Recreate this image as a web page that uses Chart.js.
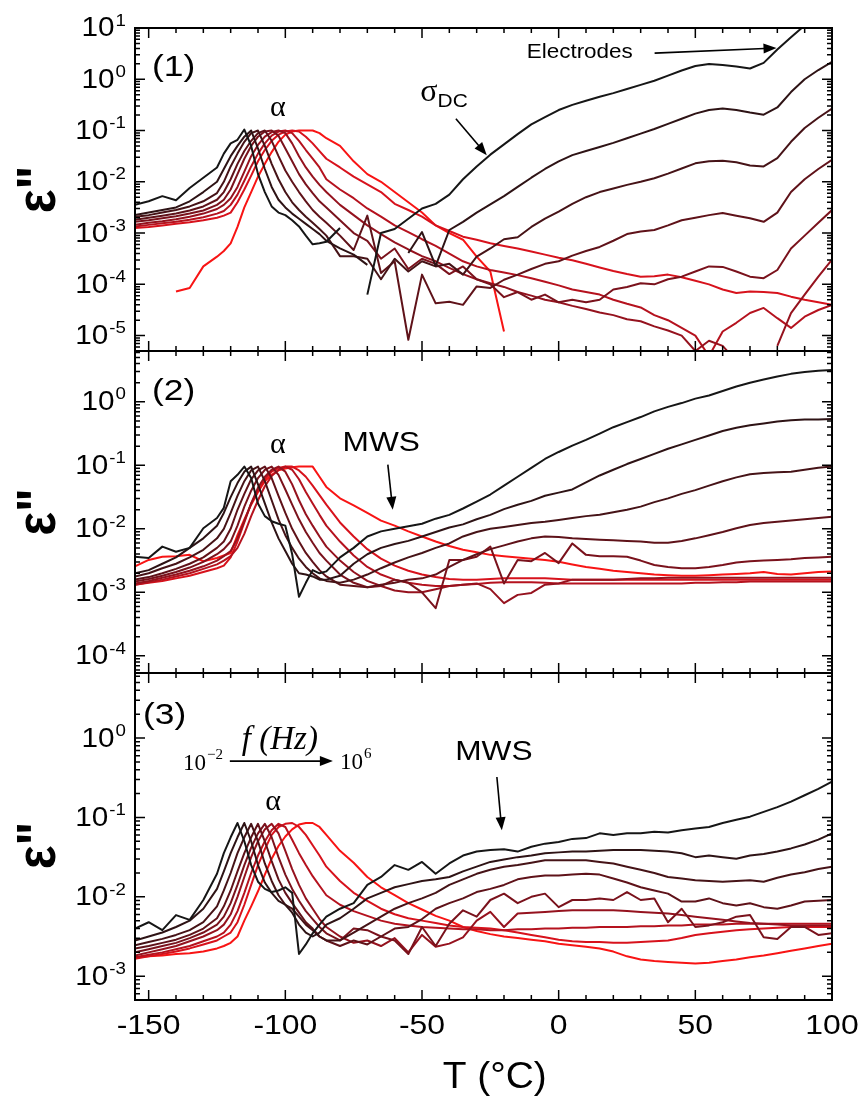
<!DOCTYPE html>
<html>
<head>
<meta charset="utf-8">
<script src="https://cdn.jsdelivr.net/npm/chart.js@4.4.1/dist/chart.umd.min.js"></script>
<style>
  body { margin: 0; background: #fff; }
  #wrap { position: relative; width: 860px; height: 1102px; }
  #wrap canvas { position: absolute; left: 0; top: 0; }
</style>
</head>
<body>
<div id="wrap">
  <canvas id="p1" width="860" height="1102"></canvas>
  <canvas id="p2" width="860" height="1102"></canvas>
  <canvas id="p3" width="860" height="1102"></canvas>
</div>
<script>
// temperature grid (°C), shared by every curve
const temps = [-155,-150,-145,-140,-135,-130,-125,
  -122.5,-120,-117.5,-115,-112.5,-110,-107.5,-105,-102.5,-100,-97.5,-95,-92.5,-90,-87.5,-85,
  -80,-75,-70,-65,-60,-55,-50,-45,-40,-35,-30,-25,-20,-15,-10,-5,0,5,10,15,20,25,30,35,40,45,50,55,60,65,70,75,80,85,90,95,100];

// one curve per frequency, 10^-2 Hz (black) .. 10^6 Hz (red)
const freqLabels = ['1e-2 Hz','1e-1 Hz','1e0 Hz','1e1 Hz','1e2 Hz','1e3 Hz','1e4 Hz','1e5 Hz','1e6 Hz'];
const colors = ['#161616','#2e1315','#461317','#5f1219','#7a121c','#95121e','#b5121e','#d7121c','#f81414'];

// values are log10(eps''), null = not plotted
// panel (1)
const p1_0 = [-2.45,-2.38,-2.28,-2.36,-2.12,-1.92,-1.72,
  -1.45,-1.25,-1.18,-0.98,-1.3,-1.85,-2.2,-2.48,-2.6,-2.65,-2.75,-2.87,-3.05,-3.22,-3.2,-3.17,
  -2.9,null,-4.2,-3.0,-2.92,-2.72,-2.52,-2.43,-2.25,-1.95,-1.7,-1.47,-1.27,-1.07,-0.88,-0.74,-0.6,-0.5,-0.42,-0.34,
  -0.27,-0.19,-0.11,-0.03,0.07,0.17,0.26,0.3,0.28,0.25,0.21,0.32,0.58,0.82,1.05,1.3,1.55];
const p1_1 = [-2.65,-2.6,-2.55,-2.5,-2.38,-2.2,-2.0,
  -1.75,-1.5,-1.3,-1.12,-1.0,-1.35,-1.75,-2.1,-2.35,-2.5,-2.62,-2.72,-2.82,-2.92,-3.02,-3.15,
  -3.3,-3.42,-3.62,null,null,-3.39,-2.98,-3.64,-2.94,-2.78,-2.6,-2.44,-2.28,-2.1,-1.92,-1.75,-1.6,-1.48,-1.4,-1.32,
  -1.24,-1.15,-1.06,-0.97,-0.87,-0.77,-0.67,-0.6,-0.57,-0.6,-0.65,-0.69,-0.55,-0.25,0.0,0.18,0.34];
const p1_2 = [-2.68,-2.65,-2.6,-2.55,-2.48,-2.38,-2.22,
  -2.0,-1.7,-1.45,-1.22,-1.05,-1.0,-1.3,-1.65,-1.95,-2.2,-2.4,-2.55,-2.68,-2.8,-2.92,-3.05,
  -3.45,-3.45,-3.5,-3.9,-3.5,-3.75,-3.55,-3.65,-3.6,-3.81,-3.46,-3.3,-3.12,-3.08,-2.88,-2.72,-2.58,-2.43,-2.3,-2.2,
  -2.13,-2.06,-2.0,-1.93,-1.84,-1.74,-1.64,-1.6,-1.59,-1.62,-1.68,-1.7,-1.54,-1.22,-0.95,-0.75,-0.57];
const p1_3 = [-2.74,-2.7,-2.66,-2.62,-2.56,-2.48,-2.35,
  -2.2,-1.95,-1.65,-1.4,-1.2,-1.05,-1.0,-1.2,-1.5,-1.78,-2.0,-2.2,-2.38,-2.55,-2.68,-2.8,
  -3.05,-3.33,-2.66,-3.78,-3.55,-5.08,-3.81,-4.37,-4.34,-4.4,-4.04,-4.07,-3.91,-3.81,-3.7,-3.6,-3.55,-3.44,-3.35,-3.27,
  -3.15,-3.02,-2.97,-2.94,-2.85,-2.75,-2.7,-2.65,-2.61,-2.66,-2.71,-2.78,-2.6,-2.2,-1.95,-1.75,-1.57];
const p1_4 = [-2.78,-2.75,-2.71,-2.67,-2.62,-2.56,-2.45,
  -2.35,-2.15,-1.85,-1.55,-1.3,-1.12,-1.02,-1.0,-1.1,-1.35,-1.6,-1.85,-2.05,-2.22,-2.38,-2.5,
  -2.75,-3.0,-3.15,-3.5,-3.3,-3.7,-3.5,-3.6,-3.8,-3.65,-3.9,-4.0,-4.25,-4.15,-4.3,-4.2,-4.35,-4.3,-4.35,-4.3,
  -4.1,-4.05,-3.98,-4.0,-3.9,-3.85,-3.75,-3.65,-3.66,-3.75,-3.85,-3.88,-3.72,-3.3,-3.05,-2.8,-2.55];
const p1_5 = [-2.84,-2.8,-2.77,-2.73,-2.68,-2.62,-2.53,
  -2.45,-2.32,-2.1,-1.8,-1.5,-1.28,-1.12,-1.03,-1.0,-1.05,-1.25,-1.5,-1.72,-1.9,-2.06,-2.2,
  -2.45,-2.65,-2.85,-3.02,-3.18,-3.32,-3.45,-3.55,-3.68,-3.8,-3.9,-3.98,-4.05,-4.15,-4.22,-4.3,-4.35,-4.42,-4.48,-4.55,
  -4.6,-4.68,-4.72,-4.82,-4.9,-5.0,-5.3,-5.1,-5.2,-5.5,null,null,-5.2,-4.56,-4.2,-3.85,-3.52];
const p1_6 = [-2.87,-2.84,-2.81,-2.78,-2.74,-2.69,-2.62,
  -2.57,-2.45,-2.25,-1.98,-1.7,-1.45,-1.25,-1.1,-1.02,-1.0,-1.05,-1.2,-1.38,-1.55,-1.72,-1.95,
  -2.15,-2.32,-2.52,-2.68,-2.85,-2.98,-3.12,-3.25,-3.4,-3.55,-3.65,-3.72,-3.77,-3.82,-3.88,-3.95,-4.02,-4.1,-4.15,-4.2,
  -4.3,-4.38,-4.45,-4.6,-4.7,-4.85,-5.0,-5.4,-4.92,-4.75,-4.56,-4.46,-4.66,-4.85,-4.63,-4.5,-4.4];
const p1_7 = [-2.9,-2.88,-2.85,-2.82,-2.79,-2.75,-2.7,
  -2.66,-2.6,-2.4,-2.15,-1.88,-1.6,-1.38,-1.2,-1.08,-1.02,-1.0,-1.02,-1.12,-1.25,-1.4,-1.55,
  -1.72,-1.9,-2.05,-2.2,-2.43,-2.55,-2.68,-2.85,-2.96,-3.07,-3.13,-3.2,-3.25,-3.3,-3.36,-3.42,-3.48,-3.53,-3.6,-3.67,
  -3.74,-3.8,-3.85,-3.84,-3.81,-3.86,-3.93,-4.0,-4.1,-4.17,-4.14,-4.15,-4.17,-4.24,-4.3,-4.35,-4.4];
const p1_8 = [null,null,null,-4.14,-4.07,-3.65,-3.46,
  -3.35,-3.2,-2.88,-2.5,-2.2,-1.9,-1.65,-1.42,-1.22,-1.08,-1.02,-1.0,-1.0,-1.0,-1.05,-1.15,
  -1.3,-1.6,-1.85,-2.0,-2.2,-2.4,-2.6,-2.85,-3.0,-3.13,-3.46,-3.75,-4.92,null,null,null,null,null,null,null,
  null,null,null,null,null,null,null,null,null,null,null,null,null,null,null,null,null];

// panel (2)
const p2_0 = [-2.44,-2.46,-2.28,-2.36,-2.3,-1.99,-1.83,
  -1.67,-1.25,-1.15,-1.02,-1.2,-1.6,-1.8,-1.88,-1.92,-1.95,-2.4,-3.07,-2.85,-2.65,-2.7,-2.67,
  -2.45,-2.3,-2.12,-2.04,-2.0,-1.96,-1.92,-1.84,-1.78,-1.68,-1.57,-1.46,-1.32,-1.18,-1.04,-0.9,-0.79,-0.69,-0.6,-0.5,
  -0.4,-0.32,-0.24,-0.15,-0.08,-0.02,0.05,0.1,0.17,0.24,0.3,0.35,0.4,0.44,0.47,0.49,0.5];
const p2_1 = [-2.7,-2.65,-2.55,-2.45,-2.3,-2.15,-1.95,
  -1.75,-1.5,-1.28,-1.1,-1.02,-1.3,-1.6,-1.9,-2.15,-2.35,-2.55,-2.7,-2.72,-2.75,-2.8,-2.8,
  -2.74,-2.55,-2.4,-2.3,-2.24,-2.19,-2.12,-2.05,-1.98,-1.93,-1.85,-1.78,-1.69,-1.62,-1.56,-1.48,-1.43,-1.38,-1.27,-1.16,
  -1.07,-0.98,-0.9,-0.82,-0.74,-0.67,-0.6,-0.53,-0.46,-0.41,-0.37,-0.34,-0.31,-0.29,-0.28,-0.28,-0.27];
const p2_2 = [-2.75,-2.7,-2.62,-2.55,-2.45,-2.33,-2.15,
  -2.0,-1.75,-1.48,-1.25,-1.08,-1.02,-1.25,-1.55,-1.85,-2.1,-2.3,-2.47,-2.6,-2.7,-2.78,-2.82,
  -2.85,-2.8,-2.72,-2.62,-2.53,-2.45,-2.38,-2.3,-2.23,-2.12,-2.05,-2.0,-1.97,-1.94,-1.91,-1.89,-1.86,-1.83,-1.8,-1.78,
  -1.74,-1.7,-1.65,-1.58,-1.52,-1.45,-1.39,-1.32,-1.25,-1.19,-1.14,-1.12,-1.11,-1.1,-1.07,-1.04,-1.02];
const p2_3 = [-2.8,-2.76,-2.7,-2.63,-2.55,-2.45,-2.3,
  -2.2,-2.0,-1.7,-1.45,-1.22,-1.08,-1.02,-1.2,-1.48,-1.75,-2.0,-2.2,-2.38,-2.52,-2.65,-2.75,
  -2.88,-2.9,-2.92,-2.88,-2.85,-2.8,-2.78,-2.72,-2.6,-2.49,-2.4,-2.32,-2.26,-2.2,-2.15,-2.12,-2.13,-2.15,-2.16,-2.17,
  -2.18,-2.19,-2.2,-2.22,-2.22,-2.19,-2.15,-2.1,-2.05,-1.99,-1.94,-1.91,-1.89,-1.87,-1.85,-1.83,-1.81];
const p2_4 = [-2.83,-2.79,-2.74,-2.68,-2.61,-2.52,-2.4,
  -2.32,-2.2,-1.95,-1.65,-1.4,-1.2,-1.07,-1.02,-1.15,-1.38,-1.62,-1.85,-2.05,-2.22,-2.38,-2.5,
  -2.72,-2.85,-2.92,-2.9,-2.8,-2.85,-3.0,-3.25,-2.49,-2.49,-2.44,-2.28,-2.86,-2.49,-2.51,-2.38,-2.54,-2.23,-2.41,-2.43,
  -2.43,-2.44,-2.5,-2.57,-2.6,-2.62,-2.62,-2.6,-2.57,-2.53,-2.51,-2.5,-2.49,-2.48,-2.46,-2.45,-2.44];
const p2_5 = [-2.86,-2.82,-2.77,-2.72,-2.66,-2.59,-2.5,
  -2.43,-2.35,-2.15,-1.88,-1.6,-1.35,-1.18,-1.07,-1.02,-1.1,-1.3,-1.55,-1.77,-1.95,-2.12,-2.28,
  -2.5,-2.68,-2.82,-2.9,-2.97,-3.0,-3.0,-2.95,-2.9,-2.88,-2.86,-2.95,-3.17,-3.04,-3.01,-2.88,-2.86,-2.8,-2.8,-2.8,
  -2.8,-2.79,-2.78,-2.78,-2.77,-2.77,-2.77,-2.77,-2.77,-2.77,-2.77,-2.77,-2.77,-2.77,-2.77,-2.77,-2.77];
const p2_6 = [-2.88,-2.84,-2.8,-2.75,-2.7,-2.63,-2.56,
  -2.5,-2.43,-2.3,-2.08,-1.8,-1.55,-1.33,-1.17,-1.07,-1.02,-1.07,-1.22,-1.42,-1.6,-1.78,-1.95,
  -2.2,-2.42,-2.6,-2.72,-2.8,-2.85,-2.88,-2.9,-2.9,-2.88,-2.87,-2.85,-2.84,-2.84,-2.84,-2.85,-2.86,-2.86,-2.86,-2.86,
  -2.86,-2.86,-2.86,-2.86,-2.86,-2.86,-2.85,-2.85,-2.84,-2.84,-2.83,-2.83,-2.83,-2.83,-2.83,-2.83,-2.83];
const p2_7 = [-2.88,-2.85,-2.82,-2.78,-2.74,-2.68,-2.62,
  -2.58,-2.45,-2.2,-1.9,-1.6,-1.4,-1.22,-1.1,-1.04,-1.02,-1.02,-1.08,-1.18,-1.32,-1.47,-1.62,
  -1.9,-2.12,-2.32,-2.47,-2.58,-2.66,-2.72,-2.76,-2.79,-2.8,-2.8,-2.79,-2.78,-2.78,-2.78,-2.78,-2.79,-2.8,-2.8,-2.8,
  -2.8,-2.8,-2.8,-2.8,-2.8,-2.8,-2.8,-2.8,-2.8,-2.8,-2.8,-2.8,-2.8,-2.8,-2.8,-2.8,-2.8];
const p2_8 = [-2.59,-2.49,-2.44,-2.43,-2.41,-2.51,-2.46,
  -2.42,-2.38,-2.1,-1.85,-1.62,-1.42,-1.25,-1.15,-1.08,-1.05,-1.03,-1.02,-1.02,-1.02,-1.18,-1.34,
  -1.52,-1.63,-1.75,-1.87,-1.95,-2.04,-2.12,-2.2,-2.27,-2.33,-2.37,-2.41,-2.43,-2.45,-2.47,-2.49,-2.52,-2.56,-2.6,-2.63,
  -2.66,-2.68,-2.7,-2.72,-2.73,-2.74,-2.74,-2.73,-2.72,-2.71,-2.7,-2.68,-2.71,-2.72,-2.7,-2.68,-2.67];

// panel (3)
const p3_0 = [-2.4,-2.32,-2.42,-2.23,-2.29,-2.04,-1.71,
  -1.45,-1.25,-1.07,-1.3,-1.6,-1.81,-1.9,-1.94,-1.92,-1.88,-1.95,-2.72,-2.6,-2.46,-2.35,-2.25,
  -2.15,-2.08,-1.85,-1.75,-1.6,-1.66,-1.56,-1.71,-1.58,-1.48,-1.43,-1.41,-1.4,-1.43,-1.37,-1.33,-1.31,-1.27,-1.26,-1.2,
  -1.22,-1.2,-1.2,-1.18,-1.19,-1.16,-1.14,-1.12,-1.07,-1.03,-0.99,-0.93,-0.87,-0.8,-0.72,-0.64,-0.55];
const p3_1 = [-2.55,-2.5,-2.45,-2.38,-2.3,-2.15,-1.9,
  -1.68,-1.45,-1.25,-1.07,-1.3,-1.6,-1.82,-1.95,-2.05,-2.1,-2.2,-2.35,-2.45,-2.5,-2.45,-2.35,
  -2.27,-2.15,-2.02,-1.95,-1.88,-1.84,-1.8,-1.78,-1.75,-1.68,-1.62,-1.56,-1.53,-1.5,-1.48,-1.45,-1.44,-1.43,-1.43,-1.42,
  -1.41,-1.41,-1.41,-1.42,-1.43,-1.45,-1.5,-1.48,-1.5,-1.52,-1.48,-1.46,-1.43,-1.39,-1.34,-1.28,-1.2];
const p3_2 = [-2.61,-2.57,-2.53,-2.48,-2.42,-2.32,-2.12,
  -1.92,-1.7,-1.45,-1.25,-1.08,-1.3,-1.58,-1.8,-1.98,-2.1,-2.15,-2.25,-2.35,-2.42,-2.5,-2.55,
  -2.55,-2.45,-2.35,-2.25,-2.15,-2.08,-2.02,-1.95,-1.85,-1.78,-1.71,-1.66,-1.62,-1.6,-1.57,-1.54,-1.54,-1.54,-1.54,-1.56,
  -1.58,-1.62,-1.66,-1.7,-1.75,-1.77,-1.79,-1.8,-1.81,-1.8,-1.79,-1.81,-1.76,-1.72,-1.69,-1.65,-1.62];
const p3_3 = [-2.65,-2.62,-2.58,-2.54,-2.48,-2.4,-2.27,
  -2.12,-1.92,-1.68,-1.45,-1.25,-1.08,-1.3,-1.55,-1.78,-1.95,-2.08,-2.2,-2.32,-2.4,-2.5,-2.55,
  -2.62,-2.55,-2.6,-2.5,-2.4,-2.38,-2.28,-2.15,-2.08,-2.02,-1.94,-1.9,-1.85,-1.78,-1.75,-1.73,-1.73,-1.72,-1.71,-1.72,
  -1.77,-1.82,-1.88,-1.92,-1.96,-2.06,-2.06,-2.02,-2.08,-2.11,-2.08,-2.13,-2.15,-2.11,-2.06,-2.05,-2.04];
const p3_4 = [-2.7,-2.66,-2.62,-2.58,-2.52,-2.45,-2.35,
  -2.25,-2.08,-1.85,-1.6,-1.38,-1.2,-1.08,-1.25,-1.5,-1.72,-1.9,-2.05,-2.18,-2.28,-2.38,-2.46,
  -2.55,-2.4,-2.42,-2.5,-2.55,-2.72,-2.38,-2.62,-2.34,-2.17,-2.25,-2.04,-1.96,-2.08,-2.0,-1.96,-2.13,-2.04,-2.04,-2.02,
  -2.04,-1.94,-2.04,-2.02,-2.32,-2.15,-2.38,-2.36,-2.32,-2.25,-2.23,-2.51,-2.53,-2.38,-2.38,-2.48,-2.46];
const p3_5 = [-2.74,-2.7,-2.66,-2.62,-2.56,-2.5,-2.42,
  -2.35,-2.22,-2.0,-1.75,-1.5,-1.3,-1.15,-1.08,-1.2,-1.42,-1.65,-1.85,-2.02,-2.15,-2.28,-2.38,
  -2.5,-2.58,-2.55,-2.62,-2.52,-2.7,-2.48,-2.63,-2.59,-2.51,-2.3,-2.19,-2.38,-2.21,-2.2,-2.19,-2.18,-2.17,-2.17,-2.17,
  -2.17,-2.18,-2.19,-2.2,-2.21,-2.23,-2.25,-2.27,-2.29,-2.31,-2.33,-2.34,-2.35,-2.36,-2.36,-2.36,-2.36];
const p3_6 = [-2.76,-2.73,-2.7,-2.66,-2.62,-2.56,-2.5,
  -2.45,-2.35,-2.18,-1.95,-1.7,-1.48,-1.3,-1.16,-1.08,-1.12,-1.28,-1.45,-1.6,-1.74,-1.86,-1.98,
  -2.1,-2.18,-2.24,-2.3,-2.34,-2.36,-2.38,-2.39,-2.4,-2.41,-2.41,-2.42,-2.42,-2.41,-2.41,-2.4,-2.4,-2.39,-2.39,-2.38,
  -2.38,-2.38,-2.37,-2.37,-2.36,-2.36,-2.35,-2.35,-2.35,-2.34,-2.34,-2.34,-2.34,-2.34,-2.34,-2.34,-2.34];
const p3_7 = [-2.78,-2.75,-2.72,-2.69,-2.65,-2.6,-2.55,
  -2.5,-2.45,-2.32,-2.1,-1.85,-1.6,-1.4,-1.22,-1.12,-1.08,-1.07,-1.12,-1.22,-1.35,-1.48,-1.62,
  -1.8,-1.95,-2.05,-2.15,-2.22,-2.27,-2.3,-2.33,-2.36,-2.38,-2.39,-2.4,-2.42,-2.45,-2.48,-2.51,-2.54,-2.56,-2.57,-2.57,
  -2.58,-2.58,-2.57,-2.56,-2.55,-2.52,-2.48,-2.46,-2.44,-2.42,-2.41,-2.4,-2.39,-2.38,-2.38,-2.38,-2.38];
const p3_8 = [-2.76,-2.75,-2.74,-2.72,-2.71,-2.69,-2.65,
  -2.62,-2.58,-2.5,-2.3,-2.12,-1.93,-1.72,-1.52,-1.36,-1.24,-1.15,-1.09,-1.07,-1.07,-1.12,-1.22,
  -1.42,-1.57,-1.75,-1.88,-1.98,-2.08,-2.16,-2.24,-2.3,-2.38,-2.43,-2.47,-2.5,-2.52,-2.54,-2.56,-2.59,-2.61,-2.63,-2.65,
  -2.69,-2.75,-2.79,-2.81,-2.82,-2.83,-2.84,-2.83,-2.81,-2.79,-2.76,-2.74,-2.71,-2.68,-2.65,-2.62,-2.59];

const panel1 = [p1_0, p1_1, p1_2, p1_3, p1_4, p1_5, p1_6, p1_7, p1_8];
const panel2 = [p2_0, p2_1, p2_2, p2_3, p2_4, p2_5, p2_6, p2_7, p2_8];
const panel3 = [p3_0, p3_1, p3_2, p3_3, p3_4, p3_5, p3_6, p3_7, p3_8];

[panel1, panel2, panel3].forEach((p, k) => p.forEach((s, i) => {
  if (s.length !== temps.length) throw new Error('panel ' + (k + 1) + ' curve ' + i + ' has ' + s.length + ' values');
}));

const SANS = '"Liberation Sans", Arial, sans-serif';
const SERIF = '"Liberation Serif", "Times New Roman", serif';

function txt(ctx, s, x, y, font, align, sx) {
  ctx.save();
  ctx.font = font;
  ctx.textAlign = align || 'left';
  ctx.textBaseline = 'middle';
  ctx.translate(x, y);
  ctx.scale(sx || 1, 1);
  ctx.fillText(s, 0, 0);
  ctx.restore();
}

function arrow(ctx, x1, y1, x2, y2) {
  const a = Math.atan2(y2 - y1, x2 - x1), L = 13, W = 5;
  ctx.beginPath();
  ctx.moveTo(x1, y1);
  ctx.lineTo(x2 - 6 * Math.cos(a), y2 - 6 * Math.sin(a));
  ctx.stroke();
  ctx.beginPath();
  ctx.moveTo(x2, y2);
  ctx.lineTo(x2 - L * Math.cos(a) + W * Math.sin(a), y2 - L * Math.sin(a) - W * Math.cos(a));
  ctx.lineTo(x2 - L * Math.cos(a) - W * Math.sin(a), y2 - L * Math.sin(a) + W * Math.cos(a));
  ctx.closePath();
  ctx.fill();
}

// frame, inward ticks, labels and notes for one panel
const panelDeco = {
  id: 'panelDeco',
  afterDatasetsDraw(chart, args, o) {
    const {ctx, chartArea: a, scales: {x, y}} = chart;
    const X = t => x.getPixelForValue(t);
    const Y = e => y.getPixelForValue(Math.pow(10, e));
    ctx.save();
    ctx.strokeStyle = '#000';
    ctx.fillStyle = '#000';

    ctx.lineWidth = 1.5;
    ctx.beginPath();
    for (let t = -150; t <= 100; t += 10) {
      const px = X(t), len = t % 50 === 0 ? 10 : 5;
      ctx.moveTo(px, a.top); ctx.lineTo(px, a.top + len);
      ctx.moveTo(px, a.bottom); ctx.lineTo(px, a.bottom - len);
    }
    const lo = Math.log10(y.min), hi = Math.log10(y.max);
    for (let e = Math.floor(lo); e <= Math.ceil(hi); e++) {
      for (let m = 1; m < 10; m++) {
        const v = m * Math.pow(10, e);
        if (v < y.min || v > y.max) continue;
        const py = y.getPixelForValue(v), len = m === 1 ? 10 : 5;
        ctx.moveTo(a.left, py); ctx.lineTo(a.left + len, py);
        ctx.moveTo(a.right, py); ctx.lineTo(a.right - len, py);
      }
    }
    ctx.stroke();
    ctx.lineWidth = 2;
    ctx.strokeRect(a.left, a.top, a.right - a.left, a.bottom - a.top);

    // y tick labels 10^n
    for (let e = Math.ceil(lo - 1e-9); e <= Math.floor(hi + 1e-9); e++) {
      const py = Y(e), ex = String(e);
      ctx.font = '17px ' + SANS;
      const ew = ctx.measureText(ex).width * 1.1;
      txt(ctx, ex, 126, py - 7, '17px ' + SANS, 'right', 1.1);
      txt(ctx, '10', 126 - ew - 1, py + 1, '27px ' + SANS, 'right', 1.1);
    }

    // eps'' axis title
    ctx.save();
    ctx.translate(40, (a.top + a.bottom) / 2 + (o.titleShift || 0));
    ctx.rotate(-Math.PI / 2);
    ctx.scale(1, 1.12);
    ctx.font = 'bold 50px ' + SANS;
    ctx.textAlign = 'center';
    ctx.textBaseline = 'middle';
    ctx.fillText('ε"', 0, 0);
    ctx.restore();

    if (o.xLabels) {
      for (let t = -150; t <= 100; t += 50) {
        txt(ctx, String(t), X(t), a.bottom + 26, '28px ' + SANS, 'center', 1.14);
      }
      txt(ctx, 'T (°C)', X(-23.4), a.bottom + 78, '36px ' + SANS, 'center', 1.08);
    }

    ctx.lineWidth = 1.6;
    for (const n of o.notes || []) {
      if (n.kind === 'text') {
        txt(ctx, n.s, X(n.t), Y(n.e), n.font, n.align, n.sx);
      } else if (n.kind === 'arrow') {
        arrow(ctx, X(n.t1), Y(n.e1), X(n.t2), Y(n.e2));
      } else if (n.kind === 'pow') {
        ctx.font = n.expFont;
        const ew = ctx.measureText(n.exp).width;
        ctx.font = n.font;
        const bw = ctx.measureText(n.base).width;
        const x0 = n.align === 'right' ? X(n.t) - ew - bw - 1 : X(n.t);
        txt(ctx, n.base, x0, Y(n.e) + 2, n.font, 'left');
        txt(ctx, n.exp, x0 + bw + 1, Y(n.e) - 7, n.expFont, 'left');
      }
    }
    ctx.restore();
  }
};

const notes1 = [
  {kind: 'text', t: -148.8, e: 0.22, s: '(1)', font: '30px ' + SANS, align: 'left', sx: 1.18},
  {kind: 'text', t: -102.7, e: -0.56, s: 'α', font: '30px ' + SERIF, align: 'center'},
  {kind: 'text', t: -47.5, e: -0.26, s: 'σ', font: '32px ' + SERIF, align: 'center'},
  {kind: 'text', t: -44.3, e: -0.43, s: 'DC', font: '19px ' + SANS, align: 'left', sx: 1.1},
  {kind: 'arrow', t1: -37.6, e1: -0.77, t2: -26.3, e2: -1.48},
  {kind: 'text', t: -11.7, e: 0.53, s: 'Electrodes', font: '21px ' + SANS, align: 'left', sx: 1.07},
  {kind: 'arrow', t1: 35.1, e1: 0.51, t2: 79.7, e2: 0.61}
];
const notes2 = [
  {kind: 'text', t: -148.8, e: 0.16, s: '(2)', font: '30px ' + SANS, align: 'left', sx: 1.18},
  {kind: 'text', t: -102.7, e: -0.68, s: 'α', font: '30px ' + SERIF, align: 'center'},
  {kind: 'text', t: -64.9, e: -0.65, s: 'MWS', font: '28px ' + SANS, align: 'center', sx: 1.13},
  {kind: 'arrow', t1: -62.5, e1: -0.99, t2: -60.7, e2: -1.70}
];
const notes3 = [
  {kind: 'text', t: -152.1, e: 0.28, s: '(3)', font: '30px ' + SANS, align: 'left', sx: 1.18},
  {kind: 'text', t: -102, e: -0.03, s: 'f (Hz)', font: 'italic 33px ' + SERIF, align: 'center'},
  {kind: 'pow', t: -122.8, e: -0.30, base: '10', exp: '−2', font: '23px ' + SERIF, expFont: '15px ' + SERIF, align: 'right'},
  {kind: 'arrow', t1: -120.3, e1: -0.29, t2: -82.6, e2: -0.29},
  {kind: 'pow', t: -80, e: -0.29, base: '10', exp: '6', font: '23px ' + SERIF, expFont: '15px ' + SERIF, align: 'left'},
  {kind: 'text', t: -104.5, e: -0.81, s: 'α', font: '30px ' + SERIF, align: 'center'},
  {kind: 'text', t: -23.7, e: -0.18, s: 'MWS', font: '28px ' + SANS, align: 'center', sx: 1.13},
  {kind: 'arrow', t1: -22.6, e1: -0.49, t2: -20.8, e2: -1.16}
];

function makePanel(id, series, yMin, yMax, padTop, padBottom, deco) {
  return new Chart(document.getElementById(id), {
    type: 'line',
    data: {
      datasets: series.map((s, i) => ({
        label: freqLabels[i],
        data: temps.map((t, j) => ({x: t, y: s[j] === null ? null : Math.pow(10, s[j])})),
        borderColor: colors[i],
        borderWidth: 2,
        borderJoinStyle: 'round',
        pointRadius: 0,
        tension: 0,
        spanGaps: false,
        fill: false
      }))
    },
    options: {
      responsive: false,
      animation: false,
      devicePixelRatio: 1,
      layout: {padding: {left: 135, right: 28, top: padTop, bottom: padBottom}},
      plugins: {
        legend: {display: false},
        tooltip: {enabled: false},
        panelDeco: deco
      },
      scales: {
        x: {type: 'linear', min: -155, max: 100, display: false},
        y: {type: 'logarithmic', min: yMin, max: yMax, display: false}
      }
    },
    plugins: [panelDeco]
  });
}

makePanel('p1', panel1, Math.pow(10, -5.3), 10, 28, 751, {notes: notes1});
makePanel('p2', panel2, Math.pow(10, -4.27), Math.pow(10, 0.8), 351, 429, {notes: notes2});
makePanel('p3', panel3, Math.pow(10, -3.3), Math.pow(10, 0.82), 673, 102, {notes: notes3, xLabels: true, titleShift: 9});
</script>
</body>
</html>
